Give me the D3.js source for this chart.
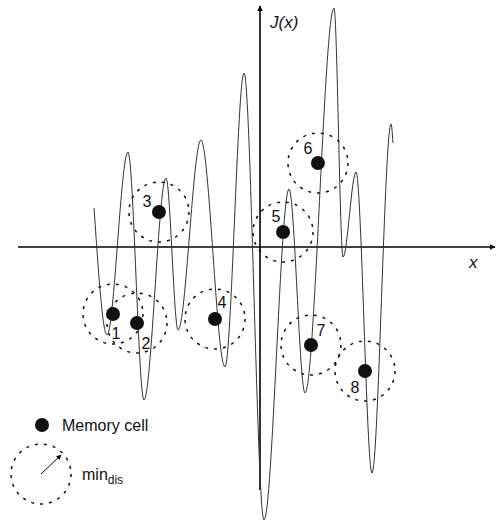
<!DOCTYPE html>
<html lang="en">
<head>
  <script src="https://d3js.org/d3.v7.min.js"></script>
  <style>
    body { margin: 0; background: #fff; }
    text, tspan { font-family: Arial, "Liberation Sans", sans-serif; fill: #111; }
  </style>
</head>
<body>
<script>
// curve J(x): turning points (x units, J units)
const curveX = [-13.83, -12.75, -11.0, -9.67, -7.83, -6.83, -4.92, -2.92, -1.33, 0.33, 2.42, 3.75, 6.17, 6.92, 8.0, 9.33, 10.92, 11.08];
const curveJ = [3.9, -8.8, 9.5, -15.3, 6.9, -8.3, 10.7, -12.0, 17.4, -27.3, 5.8, -14.6, 23.9, -1.0, 7.5, -22.6, 12.3, 10.4];

// memory cells
const cellIds = ["1", "2", "3", "4", "5", "6", "7", "8"];
const cellX = [-12.25, -10.25, -8.42, -3.75, 1.92, 4.83, 4.25, 8.75];
const cellJ = [-6.7, -7.6, 3.5, -7.2, 1.5, 8.4, -9.8, -12.4];
const minDis = 2.5; // radius of the suppression circle, in x units

const w = 496, h = 522;

// 12 px per x unit, origin at 260 ; 10 px per J unit, origin at 247
const xScale = d3.scaleLinear().domain([-20, 20]).range([20, 500]);
const yScale = d3.scaleLinear().domain([-28, 25]).range([527, -3]);

const svg = d3.select("body").append("svg")
  .attr("width", w)
  .attr("height", h);

// arrow heads
const defs = svg.append("defs");
defs.append("marker")
  .attr("id", "axisArrow")
  .attr("viewBox", "0 0 10 10")
  .attr("refX", 9).attr("refY", 5)
  .attr("markerWidth", 6).attr("markerHeight", 6)
  .attr("markerUnits", "userSpaceOnUse")
  .attr("orient", "auto")
  .append("path").attr("d", "M0,0 L10,5 L0,10 Z").attr("fill", "#000");
defs.append("marker")
  .attr("id", "smallArrow")
  .attr("viewBox", "0 0 10 10")
  .attr("refX", 9).attr("refY", 5)
  .attr("markerWidth", 5).attr("markerHeight", 5)
  .attr("markerUnits", "userSpaceOnUse")
  .attr("orient", "auto")
  .append("path").attr("d", "M0,0 L10,5 L0,10 Z").attr("fill", "#000");

const x0 = xScale(0), y0 = yScale(0);

// x axis
svg.append("line")
  .attr("x1", 18).attr("y1", y0)
  .attr("x2", 495).attr("y2", y0)
  .attr("stroke", "#000").attr("stroke-width", 1.6)
  .attr("marker-end", "url(#axisArrow)");
// y axis
svg.append("line")
  .attr("x1", x0).attr("y1", 490)
  .attr("x2", x0).attr("y2", 6)
  .attr("stroke", "#000").attr("stroke-width", 1.6)
  .attr("marker-end", "url(#axisArrow)");

svg.append("text")
  .attr("x", 270).attr("y", 28)
  .attr("font-size", 17)
  .attr("font-style", "italic")
  .text("J(x)");
svg.append("text")
  .attr("x", 469).attr("y", 268)
  .attr("font-size", 17)
  .attr("font-style", "italic")
  .text("x");

// the curve
const pts = curveX.map((d, i) => [d, curveJ[i]]);
const line = d3.line()
  .x(d => xScale(d[0]))
  .y(d => yScale(d[1]))
  .curve(d3.curveMonotoneX);
svg.append("path")
  .attr("d", line(pts))
  .attr("fill", "none")
  .attr("stroke", "#333")
  .attr("stroke-width", 1);

// memory cells
const cells = cellIds.map((id, i) => ({ id: id, x: cellX[i], j: cellJ[i] }));
const r = xScale(minDis) - xScale(0);

svg.selectAll(".dis")
  .data(cells)
  .enter()
  .append("circle")
  .attr("class", "dis")
  .attr("cx", d => xScale(d.x))
  .attr("cy", d => yScale(d.j))
  .attr("r", r)
  .attr("fill", "none")
  .attr("stroke", "#111")
  .attr("stroke-width", 1.5)
  .attr("stroke-dasharray", "3,6");

svg.selectAll(".cell")
  .data(cells)
  .enter()
  .append("circle")
  .attr("class", "cell")
  .attr("cx", d => xScale(d.x))
  .attr("cy", d => yScale(d.j))
  .attr("r", 7)
  .attr("fill", "#111");

// label offsets from the dot (px)
const labelOff = [[3, 25], [9, 26], [-12, -5], [7, -11], [-7, -10], [-10, -9], [10, -9], [-10, 22]];
svg.selectAll(".lab")
  .data(cells)
  .enter()
  .append("text")
  .attr("class", "lab")
  .attr("x", (d, i) => xScale(d.x) + labelOff[i][0])
  .attr("y", (d, i) => yScale(d.j) + labelOff[i][1])
  .attr("text-anchor", "middle")
  .attr("font-size", 16)
  .text(d => d.id);

// legend
svg.append("circle")
  .attr("cx", 42).attr("cy", 425).attr("r", 7)
  .attr("fill", "#111");
svg.append("text")
  .attr("x", 62).attr("y", 431)
  .attr("font-size", 16)
  .text("Memory cell");

svg.append("circle")
  .attr("cx", 41).attr("cy", 474).attr("r", r)
  .attr("fill", "none")
  .attr("stroke", "#111")
  .attr("stroke-width", 1.5)
  .attr("stroke-dasharray", "3,6");
svg.append("line")
  .attr("x1", 41).attr("y1", 474)
  .attr("x2", 61).attr("y2", 455)
  .attr("stroke", "#000").attr("stroke-width", 1)
  .attr("marker-end", "url(#smallArrow)");
const minTxt = svg.append("text")
  .attr("x", 82).attr("y", 480)
  .attr("font-size", 16);
minTxt.append("tspan").text("min");
minTxt.append("tspan")
  .attr("font-size", 12)
  .attr("dy", 4)
  .text("dis");
</script>
</body>
</html>
